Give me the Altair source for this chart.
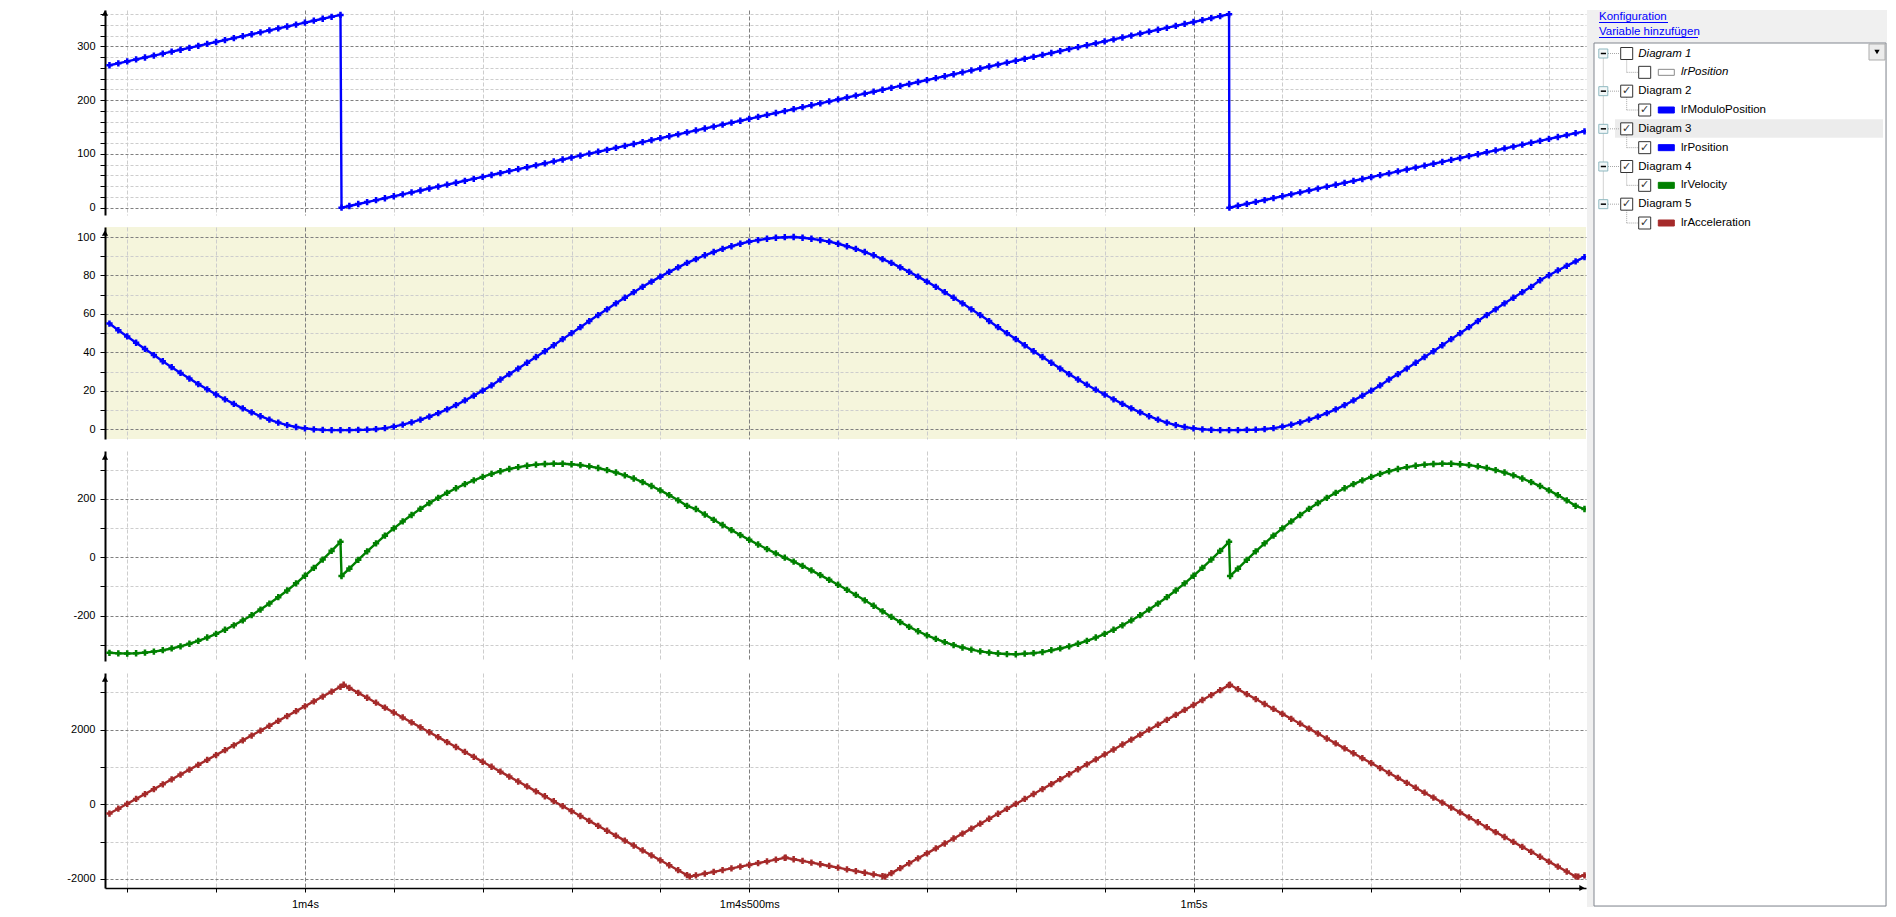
import altair as alt
import pandas as pd

# ---------------- data ----------------
# sample grid in seconds (10 ms steps)
time_s = [round(63.78 + 0.01 * k, 2) for k in range(167)]

modulo_position = [
    264.8, 268.4, 272.0, 275.6, 279.2, 282.8, 286.4, 290.0, 293.6, 297.2,
    300.8, 304.4, 308.0, 311.6, 315.2, 318.8, 322.4, 326.0, 329.6, 333.2,
    336.8, 340.4, 344.0, 347.6, 351.2, 354.8, 358.4,
    3.2, 6.8, 10.4, 14.0, 17.6, 21.2, 24.8, 28.4, 32.0, 35.6,
    39.2, 42.8, 46.4, 50.0, 53.6, 57.2, 60.8, 64.4, 68.0, 71.6,
    75.2, 78.8, 82.4, 86.0, 89.6, 93.2, 96.8, 100.4, 104.0, 107.6,
    111.2, 114.8, 118.4, 122.0, 125.6, 129.2, 132.8, 136.4, 140.0, 143.6,
    147.2, 150.8, 154.4, 158.0, 161.6, 165.2, 168.8, 172.4, 176.0, 179.6,
    183.2, 186.8, 190.4, 194.0, 197.6, 201.2, 204.8, 208.4, 212.0, 215.6,
    219.2, 222.8, 226.4, 230.0, 233.6, 237.2, 240.8, 244.4, 248.0, 251.6,
    255.2, 258.8, 262.4, 266.0, 269.6, 273.2, 276.8, 280.4, 284.0, 287.6,
    291.2, 294.8, 298.4, 302.0, 305.6, 309.2, 312.8, 316.4, 320.0, 323.6,
    327.2, 330.8, 334.4, 338.0, 341.6, 345.2, 348.8, 352.4, 356.0, 359.6,
    3.6, 7.1, 10.7, 14.2, 17.8, 21.3, 24.9, 28.4, 32.0, 35.5,
    39.1, 42.6, 46.2, 49.7, 53.3, 56.8, 60.4, 63.9, 67.5, 71.0,
    74.6, 78.1, 81.7, 85.2, 88.8, 92.3, 95.9, 99.4, 103.0, 106.5,
    110.1, 113.6, 117.2, 120.7, 124.3, 127.8, 131.4, 134.9, 138.5, 142.0,
]
modulo_jump_t = [64.0412, 65.0404]
modulo_jump_v = [0.0, 0.0]

position = [
    55.0, 51.5, 48.3, 45.0, 41.8, 38.6, 35.4, 32.3, 29.3, 26.4,
    23.5, 20.8, 18.1, 15.6, 13.2, 10.9, 8.8, 6.8, 5.0, 3.5,
    2.2, 1.2, 0.5, 0.0, -0.3, -0.4, -0.4, -0.4, -0.3, -0.2,
    0.1, 0.6, 1.4, 2.4, 3.6, 5.0, 6.6, 8.4, 10.4, 12.6,
    15.0, 17.5, 20.1, 22.8, 25.9, 28.7, 31.6, 34.6, 37.6, 40.6,
    43.7, 46.9, 50.0, 53.1, 56.3, 59.4, 62.4, 65.5, 68.4, 71.3,
    74.1, 76.8, 79.4, 81.9, 84.2, 86.5, 88.5, 90.5, 92.2, 93.8,
    95.2, 96.5, 97.6, 98.4, 99.1, 99.6, 99.9, 100.0, 99.6, 99.1,
    98.4, 97.6, 96.5, 95.2, 93.8, 92.2, 90.5, 88.5, 86.5, 84.2,
    81.9, 79.4, 76.8, 74.1, 71.3, 68.4, 65.5, 62.4, 59.4, 56.3,
    53.1, 50.0, 46.9, 43.7, 40.6, 37.6, 34.6, 31.6, 28.7, 25.9,
    23.2, 20.6, 18.1, 15.6, 13.2, 10.9, 8.8, 6.8, 5.0, 3.5,
    2.2, 1.2, 0.5, 0.0, -0.3, -0.4, -0.4, -0.4, -0.3, -0.2,
    0.1, 0.6, 1.4, 2.4, 3.6, 5.0, 6.6, 8.4, 10.4, 12.6,
    15.0, 17.5, 20.1, 22.8, 25.9, 28.7, 31.6, 34.6, 37.6, 40.6,
    43.7, 46.9, 50.0, 53.1, 56.3, 59.4, 62.4, 65.5, 68.4, 71.3,
    74.1, 77.5, 80.1, 82.6, 85.0, 87.3, 89.5,
]

velocity = [
    -327.4, -329.2, -329.7, -328.9, -326.8, -323.3, -318.5, -312.5, -305.1, -296.3,
    -286.4, -275.0, -262.3, -248.4, -233.1, -216.4, -198.5, -179.3, -158.7, -136.8,
    -113.7, -89.2, -63.3, -36.3, -7.8, 22.0, 53.1,
    -38.8, -8.6, 20.4, 48.0, 74.3, 99.2, 122.9, 145.1, 166.1, 185.7,
    204.0, 221.0, 236.6, 251.0, 263.9, 275.6, 285.9, 294.9, 302.6, 308.9,
    313.9, 317.6, 319.9, 320.9, 320.6, 318.9, 316.0, 311.7, 306.0, 299.1,
    290.7, 281.1, 270.2, 257.9, 244.3, 229.3, 213.0, 195.4, 176.5,
    165.5, 146.8, 128.4, 110.6, 93.2, 76.2, 59.8, 43.8, 28.3, 13.3, -1.4,
    -14.6, -29.5, -45.0, -60.9, -77.2, -94.1, -111.4, -129.1, -147.4, -166.1, -185.3,
    -204.3, -222.0, -238.5, -253.5, -267.4, -279.9, -290.9, -300.8, -309.2, -316.4,
    -322.3, -326.7, -329.9, -331.7, -332.3,
    -330.5, -328.5, -325.0, -318.5, -312.5, -305.1, -296.3, -286.4, -275.0, -262.3,
    -248.4, -233.1, -216.4, -198.5, -179.3, -158.7, -136.8, -113.7, -89.2, -63.3,
    -36.3, -7.8, 22.0, 53.1,
    -38.8, -8.6, 20.4, 48.0, 74.3, 99.2, 122.9, 145.1, 166.1, 185.7,
    204.0, 221.0, 236.6, 251.0, 263.9, 275.6, 285.9, 294.9, 302.6, 308.9,
    313.9, 317.6, 319.9, 320.9, 320.6, 318.9, 316.0, 311.7, 306.0, 299.1,
    290.7, 281.1, 270.2, 257.9, 244.3, 229.3, 213.0, 195.4, 176.5, 165.5,
]
velocity_jump_t = [64.0412, 65.0412]
velocity_jump_v = [-64.0, -64.0]

acceleration = [
    -248, -118, 13, 144, 274, 405, 535, 666, 796, 927,
    1057, 1188, 1318, 1449, 1579, 1710, 1840, 1971, 2101, 2232,
    2362, 2493, 2623, 2754, 2884, 3015, 3145,
    3116, 2984, 2852, 2720, 2588, 2457, 2325, 2193, 2061, 1929,
    1797, 1665, 1534, 1402, 1270, 1138, 1006, 874, 742, 610,
    479, 347, 215, 83, -49, -181, -313, -445, -577, -709,
    -840, -972, -1104, -1236, -1368, -1500, -1632, -1764, -1896,
    -1903, -1856, -1809, -1762, -1716, -1669, -1622, -1575, -1528, -1481, -1434,
    -1471, -1516, -1561, -1606, -1651, -1697, -1742, -1787, -1832, -1877, -1922,
    -1843, -1710, -1578, -1446, -1314, -1181, -1049, -916, -784, -651,
    -519, -387, -254, -122, 11, 143, 276, 408, 540, 673,
    805, 938, 1070, 1202, 1335, 1467, 1600, 1732, 1865, 1997,
    2129, 2262, 2394, 2527, 2659, 2792, 2924, 3056, 3189,
    3081, 2949, 2817, 2685, 2553, 2421, 2289, 2158, 2026, 1894,
    1762, 1630, 1498, 1366, 1234, 1102, 970, 838, 707, 575,
    443, 311, 179, 47, -85, -217, -349, -481, -613, -745,
    -876, -1008, -1140, -1272, -1404, -1536, -1668, -1800, -1932, -1903,
]
accel_corner_t = [64.0436, 64.433, 64.541, 64.653, 65.041, 65.433]
accel_corner_v = [3200, -1936, -1430, -1936, 3200, -1936]

for series in (modulo_position, position, velocity, acceleration):
    assert len(series) == len(time_s), len(series)

x_domain = [63.775, 65.4417]
x_tick_values = [63.8, 63.9, 64.0, 64.1, 64.2, 64.3, 64.4, 64.5, 64.6, 64.7,
                 64.8, 64.9, 65.0, 65.1, 65.2, 65.3, 65.4]
x_label_at = [64.0, 64.5, 65.0]
x_label_text = ["1m4s", "1m4s500ms", "1m5s"]

# sidebar tree
tree_labels = ["Diagram 1", "lrPosition", "Diagram 2", "lrModuloPosition", "Diagram 3",
               "lrPosition", "Diagram 4", "lrVelocity", "Diagram 5", "lrAcceleration"]
tree_level = [0, 1, 0, 1, 0, 1, 0, 1, 0, 1]
tree_checked = [False, False, True, True, True, True, True, True, True, True]
tree_italic = [True, True, False, False, False, False, False, False, False, False]
tree_selected = [False, False, False, False, True, False, False, False, False, False]
tree_swatch = ["#ffffff", "#ffffff", "#0000ff", "#0000ff", "#0000ff", "#0000ff",
               "#008000", "#008000", "#a52a2a", "#a52a2a"]
tree_swatch_stroke = ["#8a8a8a", "#8a8a8a", "#0000ff", "#0000ff", "#0000ff", "#0000ff",
                      "#008000", "#008000", "#a52a2a", "#a52a2a"]
link_labels = ["Konfiguration", "Variable hinzufügen"]

# ---------------- styling ----------------
FONT = "Liberation Sans"
MAJOR = "#7f7f7f"
MINOR = "#cdcdcd"
PLOT_W = 1481
AXIS_EXT = 97


def series_frame(values, extra_t=(), extra_v=()):
    df = pd.DataFrame({"t": list(time_s) + list(extra_t), "v": list(values) + list(extra_v)})
    return df.sort_values("t").reset_index(drop=True)


one_row = pd.DataFrame({"a": [0]})

x_label_expr = " : ".join(
    f"abs(datum.value - {v}) < 0.001 ? '{s}'" for v, s in zip(x_label_at, x_label_text)
) + " : ''"
x_major_test = "abs(datum.value * 2 - round(datum.value * 2)) < 0.001"


def make_panel(df, color, y_domain, height, y_ticks, label_step, fill=None,
               bottom=False, arrow_y=5):
    x_common = dict(
        values=x_tick_values, grid=True, title=None,
        gridColor={"condition": {"test": x_major_test, "value": MAJOR}, "value": MINOR},
        gridDash=[4, 2], gridWidth=1,
    )
    if bottom:
        x_axis = alt.Axis(
            **x_common, labels=True, ticks=True, domain=True, tickSize=4,
            tickColor="black", domainColor="black", domainWidth=1.5,
            labelExpr=x_label_expr, labelPadding=6, labelOverlap=False, labelFlush=False,
        )
    else:
        x_axis = alt.Axis(**x_common, labels=False, ticks=False, domain=False,
                          minExtent=0, maxExtent=0)
    y_axis = alt.Axis(
        values=y_ticks, title=None, grid=True,
        gridColor={"condition": {"test": f"datum.value % {label_step} === 0", "value": MAJOR},
                   "value": MINOR},
        gridDash=[3, 2], gridWidth=1,
        labelExpr=f"datum.value % {label_step} === 0 ? '' + datum.value : ''",
        tickSize=5, tickColor="black", domainColor="black", domainWidth=2,
        labelPadding=5, minExtent=AXIS_EXT, maxExtent=AXIS_EXT,
        labelOverlap=False, labelFlush=False,
    )
    base = alt.Chart(df).encode(
        x=alt.X("t:Q", scale=alt.Scale(domain=x_domain, nice=False, zero=False), axis=x_axis),
        y=alt.Y("v:Q", scale=alt.Scale(domain=y_domain, nice=False, zero=False), axis=y_axis),
    )
    line = base.mark_line(color=color, strokeWidth=2.4, clip=True)
    pts = base.mark_point(shape="cross", filled=True, size=40, color=color, opacity=1, clip=True)
    arrow = alt.Chart(one_row).mark_point(
        shape="triangle-up", filled=True, color="black", size=38, opacity=1
    ).encode(x=alt.value(0), y=alt.value(arrow_y))
    layers = [line, pts, arrow]
    if bottom:
        layers.append(
            alt.Chart(one_row).mark_point(
                shape="triangle-right", filled=True, color="black", size=38, opacity=1
            ).encode(x=alt.value(PLOT_W - 4), y=alt.value(height))
        )
    ch = alt.layer(*layers).properties(width=PLOT_W, height=height)
    if fill:
        ch = ch.properties(view=alt.ViewBackground(fill=fill, strokeWidth=0))
    return ch


p1 = make_panel(series_frame(modulo_position, modulo_jump_t, modulo_jump_v), "#0000ff",
                [-13.6, 367.5], 205, list(range(0, 361, 20)), 100, arrow_y=3)
p2 = make_panel(series_frame(position), "#0000ff",
                [-5.04, 105.2], 212, list(range(0, 101, 10)), 20, fill="#f5f5dc", arrow_y=6)
p3 = make_panel(series_frame(velocity, velocity_jump_t, velocity_jump_v), "#008000",
                [-355.5, 364.4], 210, list(range(-300, 301, 100)), 200, arrow_y=6)
p4 = make_panel(series_frame(acceleration, accel_corner_t, accel_corner_v), "#a52a2a",
                [-2241, 3515], 215, list(range(-2000, 3001, 1000)), 2000, bottom=True, arrow_y=6)

main = alt.vconcat(p1, p2, p3, p4, spacing=12)

# ---------------- sidebar ----------------
tree = pd.DataFrame({
    "row": list(range(len(tree_labels))),
    "label": tree_labels,
    "level": tree_level,
    "checked": tree_checked,
    "italic": tree_italic,
    "selected": tree_selected,
    "swatch": tree_swatch,
    "swatch_stroke": tree_swatch_stroke,
})
tree["parent_row"] = tree["row"] - 1

row_scale = alt.Scale(domain=[0, 9], range=[43.5, 213])
row_y = alt.Y("row:Q", scale=row_scale, axis=None)
tree_chart = alt.Chart(tree)
LINE = "#a6a6a6"

side_layers = [
    alt.Chart(one_row).mark_rect(fill="white", stroke="#828790", strokeWidth=1).encode(
        x=alt.value(7), x2=alt.value(299), y=alt.value(33), y2=alt.value(896)),
    tree_chart.transform_filter("datum.selected").mark_rect(
        fill="#ececec", yOffset=-9.5, y2Offset=9).encode(
        x=alt.value(28), x2=alt.value(296), y=row_y, y2=alt.Y2("row")),
    alt.Chart(pd.DataFrame({"r0": [0], "r1": [8]})).mark_rule(
        color=LINE, strokeDash=[1, 1]).encode(
        x=alt.value(16.3), y=alt.Y("r0:Q", scale=row_scale, axis=None), y2=alt.Y2("r1")),
    tree_chart.transform_filter("datum.level == 0").mark_rule(
        color=LINE, strokeDash=[1, 1]).encode(x=alt.value(21), x2=alt.value(33), y=row_y),
    tree_chart.transform_filter("datum.level == 1").mark_rule(
        color=LINE, strokeDash=[1, 1]).encode(
        x=alt.value(39.7), y=alt.Y("parent_row:Q", scale=row_scale, axis=None),
        y2=alt.Y2("row")),
    tree_chart.transform_filter("datum.level == 1").mark_rule(
        color=LINE, strokeDash=[1, 1]).encode(x=alt.value(39.7), x2=alt.value(51.5), y=row_y),
    tree_chart.transform_filter("datum.level == 0").mark_square(
        size=81, fill="#f2f7f8", stroke="#8fb9c1", strokeWidth=1, opacity=1).encode(
        x=alt.value(16.3), y=row_y),
    tree_chart.transform_filter("datum.level == 0").mark_rule(
        color="black", strokeWidth=1.5).encode(x=alt.value(13.8), x2=alt.value(19), y=row_y),
    tree_chart.transform_filter("datum.level == 0").mark_square(
        size=144, fill="white", stroke="#333333", strokeWidth=1, opacity=1).encode(
        x=alt.value(39.7), y=row_y),
    tree_chart.transform_filter("datum.level == 1").mark_square(
        size=144, fill="white", stroke="#333333", strokeWidth=1, opacity=1).encode(
        x=alt.value(57.7), y=row_y),
    tree_chart.transform_filter("datum.checked && datum.level == 0").mark_text(
        text="✓", font="DejaVu Sans", fontSize=11, color="#333333").encode(
        x=alt.value(39.7), y=row_y),
    tree_chart.transform_filter("datum.checked && datum.level == 1").mark_text(
        text="✓", font="DejaVu Sans", fontSize=11, color="#333333").encode(
        x=alt.value(57.7), y=row_y),
    tree_chart.transform_filter("datum.level == 1").mark_rect(
        yOffset=-3, y2Offset=3, strokeWidth=1).encode(
        x=alt.value(71.3), x2=alt.value(87.3), y=row_y, y2=alt.Y2("row"),
        fill=alt.Fill("swatch:N", scale=None), stroke=alt.Stroke("swatch_stroke:N", scale=None)),
]
for level, xpos in ((0, 51.3), (1, 94)):
    for italic in (False, True):
        side_layers.append(
            tree_chart.transform_filter(
                f"datum.level == {level} && datum.italic == {str(italic).lower()}"
            ).mark_text(
                align="left", baseline="middle", font=FONT, fontSize=11.5, color="black",
                fontStyle="italic" if italic else "normal",
            ).encode(x=alt.value(xpos), y=row_y, text="label:N")
        )

links = pd.DataFrame({"label": link_labels, "i": [0, 1]})
for i, (ty, uy, uw) in enumerate(((6.5, 12.5, 69), (21.5, 27.5, 99))):
    side_layers.append(
        alt.Chart(links).transform_filter(f"datum.i == {i}").mark_text(
            align="left", baseline="middle", font=FONT, fontSize=11.5, color="#0000ff"
        ).encode(x=alt.value(12), y=alt.value(ty), text="label:N")
    )
    side_layers.append(
        alt.Chart(one_row).mark_rule(color="#0000ff", strokeWidth=1).encode(
            x=alt.value(12), x2=alt.value(12 + uw), y=alt.value(uy))
    )
side_layers.append(
    alt.Chart(one_row).mark_rect(fill="#ececec", stroke="#adadad", strokeWidth=1).encode(
        x=alt.value(282), x2=alt.value(298), y=alt.value(34), y2=alt.value(50))
)
side_layers.append(
    alt.Chart(one_row).mark_point(shape="triangle-down", filled=True, color="black",
                                  size=28, opacity=1).encode(x=alt.value(290), y=alt.value(42))
)

sidebar = alt.layer(*side_layers).properties(
    width=300, height=897, view=alt.ViewBackground(fill="#f0f0f0", strokeWidth=0)
)

chart = (
    alt.hconcat(main, sidebar, spacing=1)
    .properties(padding=0)
    .configure_view(strokeWidth=0)
    .configure_axis(labelFont=FONT, labelFontSize=11, labelColor="black")
)

chart.save("out.html", embed_options={"renderer": "svg", "actions": False})
